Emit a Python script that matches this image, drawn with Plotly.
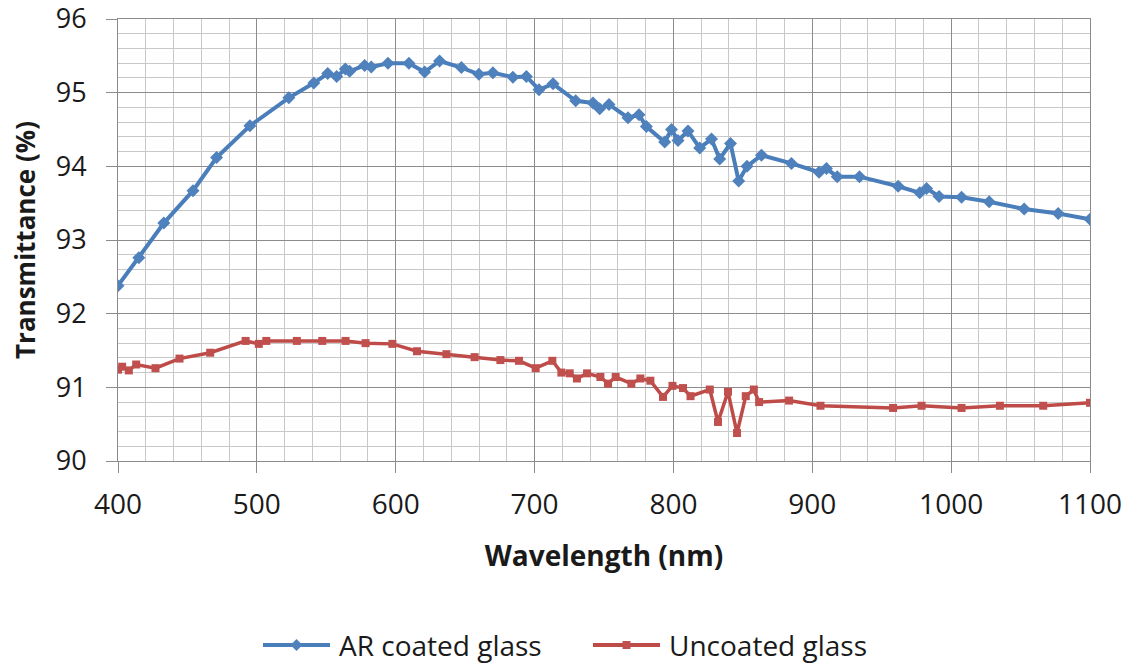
import plotly.graph_objects as go

# Transmittance spectra (wavelength in nm, transmittance in %)
ar_wavelength = [400, 415, 433, 454, 471, 495, 523, 541, 551, 557.5, 563.7, 566.8, 577.6, 582.4,
                 594.4, 609.5, 620.8, 631.6, 647.3, 659.9, 670, 684.4, 694.1, 703.2, 713.3, 729.6,
                 742.1, 746.9, 753.6, 767.3, 775.2, 780.5, 793.7, 798.6, 803.3, 810.5, 818.9, 827.4,
                 833.3, 841.1, 847, 853, 863.4, 885, 904.9, 910.2, 918, 934, 961.8, 977.4, 982.3,
                 991.3, 1007.5, 1027.4, 1052.6, 1077.1, 1100]
ar_transmittance = [92.38, 92.76, 93.23, 93.67, 94.12, 94.55, 94.93, 95.13, 95.26, 95.22, 95.32,
                    95.29, 95.37, 95.35, 95.40, 95.40, 95.28, 95.43, 95.34, 95.25, 95.27, 95.21,
                    95.22, 95.04, 95.12, 94.89, 94.86, 94.78, 94.84, 94.66, 94.70, 94.54, 94.33,
                    94.50, 94.35, 94.48, 94.25, 94.37, 94.10, 94.31, 93.80, 94.00, 94.15, 94.04,
                    93.92, 93.97, 93.86, 93.86, 93.73, 93.64, 93.70, 93.59, 93.58, 93.52, 93.42,
                    93.36, 93.28]

bare_wavelength = [400, 403, 407.8, 413.1, 427, 444.3, 466.4, 491.9, 501.4, 506.8, 528.8, 547.1,
                   563.9, 578.3, 597.6, 615.3, 636.5, 656.8, 675.4, 688.8, 700.8, 712.8, 719.3,
                   725.3, 730.5, 737.8, 747.4, 752.9, 758.4, 769.7, 776.2, 783.4, 792.5, 799.3,
                   806.9, 812.3, 826.2, 832.1, 839.3, 845.8, 852.1, 857.9, 861.7, 883.3, 905.9,
                   958.2, 978.7, 1007.5, 1035.1, 1066.3, 1100]
bare_transmittance = [91.24, 91.28, 91.23, 91.31, 91.26, 91.39, 91.47, 91.63, 91.59, 91.63, 91.63,
                      91.63, 91.63, 91.60, 91.59, 91.49, 91.45, 91.41, 91.37, 91.36, 91.26, 91.36,
                      91.20, 91.19, 91.12, 91.19, 91.14, 91.05, 91.14, 91.05, 91.12, 91.09, 90.87,
                      91.02, 90.99, 90.88, 90.97, 90.53, 90.94, 90.38, 90.88, 90.97, 90.80, 90.82,
                      90.75, 90.72, 90.75, 90.72, 90.75, 90.75, 90.79]

series_names = ["AR coated glass", "Uncoated glass"]
x_ticks = [400, 500, 600, 700, 800, 900, 1000, 1100]
y_ticks = [90, 91, 92, 93, 94, 95, 96]

BLUE_LINE, BLUE_MARK = "#4A7EBB", "#4F81BD"
RED_LINE, RED_MARK = "#BE4B48", "#C0504D"
FONT = "Open Sans, Liberation Sans, sans-serif"
MAJOR, MINOR = "#8C8C8C", "#C8C8C8"

fig = go.Figure()
fig.add_trace(go.Scatter(
    x=ar_wavelength, y=ar_transmittance, name=series_names[0], mode="lines+markers",
    line=dict(color=BLUE_LINE, width=4),
    marker=dict(symbol="diamond", size=10, color=BLUE_MARK),
    showlegend=False))
fig.add_trace(go.Scatter(
    x=bare_wavelength, y=bare_transmittance, name=series_names[1], mode="lines+markers",
    line=dict(color=RED_LINE, width=3.5),
    marker=dict(symbol="square", size=8, color=RED_MARK),
    showlegend=False))

W, H = 1136, 666
ML, MR, MT, MB = 118, 46, 19, 205
pw, ph = W - ML - MR, H - MT - MB


def px(xp):
    return (xp - ML) / pw


def py(yp):
    return (H - MB - yp) / ph


# legend below the chart: line sample with centred marker, then the label
legend_y = 645
shapes = []
annotations = []
legend_items = [
    (series_names[0], 263, 330, BLUE_LINE, BLUE_MARK, "diamond", 337),
    (series_names[1], 593, 660, RED_LINE, RED_MARK, "square", 667),
]
for name, x0, x1, lc, mc, sym, tx in legend_items:
    shapes.append(dict(type="line", xref="paper", yref="paper",
                       x0=px(x0), x1=px(x1), y0=py(legend_y), y1=py(legend_y),
                       line=dict(color=lc, width=4)))
    cx = (x0 + x1) / 2
    if sym == "diamond":
        r = 6
        path = (f"M{px(cx - r)},{py(legend_y)} L{px(cx)},{py(legend_y - r)} "
                f"L{px(cx + r)},{py(legend_y)} L{px(cx)},{py(legend_y + r)} Z")
        shapes.append(dict(type="path", xref="paper", yref="paper", path=path,
                           fillcolor=mc, line=dict(color=mc, width=0)))
    else:
        r = 4
        shapes.append(dict(type="rect", xref="paper", yref="paper",
                           x0=px(cx - r), x1=px(cx + r), y0=py(legend_y + r), y1=py(legend_y - r),
                           fillcolor=mc, line=dict(color=mc, width=0)))
    annotations.append(dict(text=name, xref="paper", yref="paper", x=px(tx), y=py(legend_y),
                            xanchor="left", yanchor="middle", showarrow=False,
                            font=dict(family=FONT, size=28, color="#1a1a1a")))

fig.update_layout(
    width=W, height=H,
    margin=dict(l=ML, r=MR, t=MT, b=MB, autoexpand=False),
    paper_bgcolor="white", plot_bgcolor="white",
    font=dict(family=FONT, size=28, color="#1a1a1a"),
    shapes=shapes, annotations=annotations,
    xaxis=dict(
        range=[400, 1100], tickvals=x_ticks, ticktext=[str(v) for v in x_ticks],
        showgrid=True, gridcolor=MAJOR, gridwidth=1,
        minor=dict(dtick=20, showgrid=True, gridcolor=MINOR, gridwidth=1),
        showline=True, linecolor=MAJOR, linewidth=1, mirror=True,
        ticks="outside", ticklen=11, tickcolor=MAJOR,
        tickfont=dict(size=28), ticklabelstandoff=7, ticklabeloverflow="allow",
        title=dict(text="<b>Wavelength (nm)</b>", font=dict(size=28), standoff=25),
        zeroline=False, automargin=False,
    ),
    yaxis=dict(
        range=[90, 96], tickvals=y_ticks, ticktext=[str(v) for v in y_ticks],
        showgrid=True, gridcolor=MAJOR, gridwidth=1,
        minor=dict(dtick=0.2, showgrid=True, gridcolor=MINOR, gridwidth=1),
        showline=True, linecolor=MAJOR, linewidth=1, mirror=True,
        ticks="outside", ticklen=11, tickcolor=MAJOR,
        tickfont=dict(size=27), ticklabelstandoff=14, ticklabeloverflow="allow",
        title=dict(text="<b>Transmittance (%)</b>", font=dict(size=26), standoff=12),
        zeroline=False, automargin=False,
    ),
)

fig.write_html("out.html")
